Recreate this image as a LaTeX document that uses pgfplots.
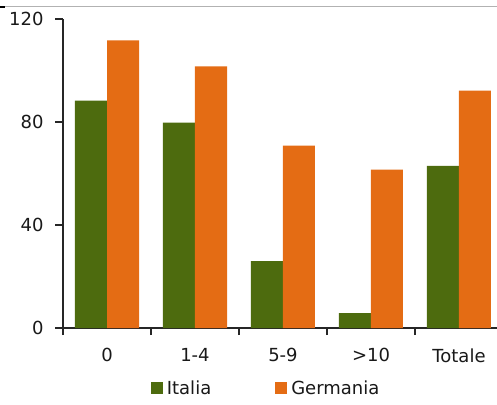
\documentclass[border=0pt]{standalone}
\usepackage{fontspec}
\setmainfont{DejaVu Sans}
\usepackage{pgfplots}
\pgfplotsset{compat=1.18}
\definecolor{itgreen}{HTML}{4D6B0E}
\definecolor{deorange}{HTML}{E46C14}
\begin{document}
\begin{tikzpicture}[x=1pt,y=1pt]
\useasboundingbox (0,0) rectangle (497,404);
\draw[gray!60, line width=1pt] (0,397) -- (497,397);
\draw[black, line width=1.5pt] (0,397) -- (5,397);
\begin{axis}[
  at={(63pt,76pt)}, anchor=south west,
  scale only axis, width=434pt, height=309pt,
  ybar=0pt, bar width=32pt,
  xmin=-0.5, xmax=4.432, ymin=0, ymax=120,
  axis x line*=bottom, axis y line*=left,
  axis line style={-, line width=1.5pt, black!85},
  xtick={0,1,2,3,4},
  xticklabels={0,1-4,5-9,>10,Totale},
  major x tick style={draw=none},
  minor xtick={-0.5,0.5,1.5,2.5,3.5},
  minor tick length=7pt,
  minor x tick style={line width=1.5pt, black!85},
  ytick={0,40,80,120},
  major tick length=8pt,
  y tick style={line width=1.5pt, black!85},
  tick align=outside,
  /pgf/number format/assume math mode=true,
  tick label style={font=\fontsize{18}{21}\selectfont, text=black!90},
  yticklabel style={xshift=-8pt},
  xticklabel style={yshift=-9pt},
  legend style={at={(0.468,-0.194)}, anchor=center, draw=none,
    legend columns=2, font=\fontsize{18}{21}\selectfont, text=black!90,
    /tikz/every odd column/.append style={column sep=2pt},
    /tikz/every even column/.append style={column sep=62pt}},
  legend image code/.code={\fill[#1] (0pt,-6pt) rectangle (12pt,6pt);},
]
\addplot[fill=itgreen, draw=none] coordinates {(0,88.3) (1,79.8) (2,26) (3,5.8) (4,63)};
\addplot[fill=deorange, draw=none] coordinates {(0,111.7) (1,101.6) (2,70.8) (3,61.5) (4,92.2)};
\legend{Italia,Germania}
\end{axis}
\end{tikzpicture}
\end{document}
